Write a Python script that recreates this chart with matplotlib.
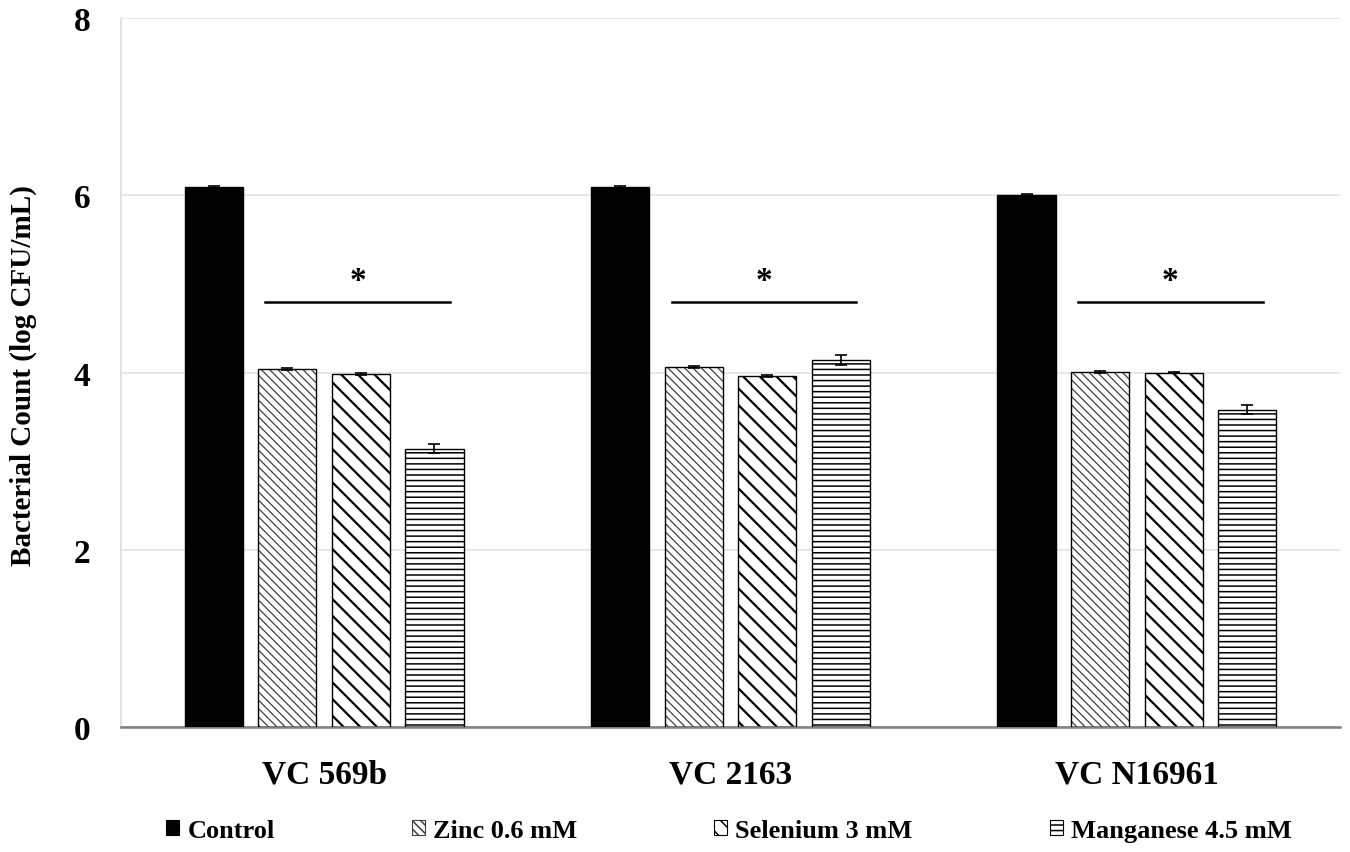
import numpy as np
import matplotlib
matplotlib.use('Agg')
import matplotlib.pyplot as plt
from matplotlib.patches import Patch

# data
strains = ['VC 569b', 'VC 2163', 'VC N16961']
treatments = ['Control', 'Zinc 0.6 mM', 'Selenium 3 mM', 'Manganese 4.5 mM']
control = [6.09, 6.09, 6.00]
zinc = [4.04, 4.06, 4.01]
selenium = [3.98, 3.96, 4.00]
manganese = [3.14, 4.14, 3.58]
control_err = [0.01, 0.01, 0.01]
zinc_err = [0.01, 0.01, 0.01]
selenium_err = [0.01, 0.01, 0.01]
manganese_err = [0.05, 0.06, 0.05]
sig_level = [4.80, 4.80, 4.80]
sig_text = ['*', '*', '*']
yticks = [0, 2, 4, 6, 8]

plt.rcParams['font.family'] = ['Liberation Serif', 'DejaVu Serif']
plt.rcParams['font.weight'] = 'bold'

fig = plt.figure(figsize=(13.5, 8.53), dpi=100)
ax = fig.add_axes([0.0896, 0.1465, 0.9030, 0.8312])

x = np.arange(len(strains))
pitch = 0.181
width = 0.143
offsets = (np.arange(4) - 1.5) * pitch

series = [control, zinc, selenium, manganese]
errs = [control_err, zinc_err, selenium_err, manganese_err]
styles = [
  dict(face='black', hatch=None, hcolor='black', hlw=1.0),
  dict(face='white', hatch='\\\\\\\\', hcolor='#404040', hlw=0.9),
  dict(face='white', hatch='\\\\', hcolor='black', hlw=1.6),
  dict(face='white', hatch='---', hcolor='black', hlw=1.1),
]

handles = []
for i, (vals, err, st) in enumerate(zip(series, errs, styles)):
  xs = x + offsets[i]
  if st['hatch']:
    plt.rcParams['hatch.linewidth'] = st['hlw']
    bars = ax.bar(xs, vals, width, color=st['face'], edgecolor=st['hcolor'],
                  hatch=st['hatch'], linewidth=0, zorder=2)
    for b in bars:
      if hasattr(b, 'set_hatch_linewidth'):
        b.set_hatch_linewidth(st['hlw'])
  ax.bar(xs, vals, width, color=st['face'] if not st['hatch'] else 'none',
         edgecolor='black', linewidth=1.0, zorder=3)
  ax.errorbar(xs, vals, yerr=err, fmt='none', ecolor='black', elinewidth=1.2,
              capsize=4, capthick=1.2, zorder=4)
  h = Patch(facecolor=st['face'], edgecolor=st['hcolor'], hatch=st['hatch'], linewidth=0.8)
  handles.append(h)

# significance bars
for gi in range(len(strains)):
  x0 = x[gi] - 0.145
  x1 = x[gi] + 0.31
  ax.plot([x0, x1], [sig_level[gi]] * 2, color='black', lw=1.8, zorder=4)
  ax.text((x0 + x1) / 2, sig_level[gi] + 0.06, sig_text[gi], ha='center', va='bottom',
          fontsize=24, fontweight='bold')

ax.set_xlim(-0.5, 2.5)
ax.set_ylim(0, 8)
ax.set_yticks(yticks)
ax.set_xticks(x)
ax.set_xticklabels(strains, fontsize=24, fontweight='bold')
ax.tick_params(axis='y', labelsize=24, length=0, pad=22)
ax.tick_params(axis='x', length=0, pad=23)
ax.grid(axis='y', color='#e2e2e2', lw=1.2, zorder=0)
ax.set_axisbelow(True)
for s in ['top', 'right']:
  ax.spines[s].set_visible(False)
ax.spines['left'].set_color('#dcdcdc')
ax.spines['left'].set_linewidth(1.2)
ax.spines['bottom'].set_color('#7f7f7f')
ax.spines['bottom'].set_linewidth(1.8)

fig.text(0.017, 0.56, 'Bacterial Count (log CFU/mL)', rotation=90, ha='center', va='center',
         fontsize=21, fontweight='bold')

fig.legend(handles, treatments, loc='center', bbox_to_anchor=(0.540, 0.025), ncol=4,
           frameon=False, handlelength=0.5, handleheight=0.5,
           handletextpad=0.3, columnspacing=5.2, prop={'weight': 'bold', 'size': 19})

fig.savefig('out.png', dpi=100, facecolor='white')
